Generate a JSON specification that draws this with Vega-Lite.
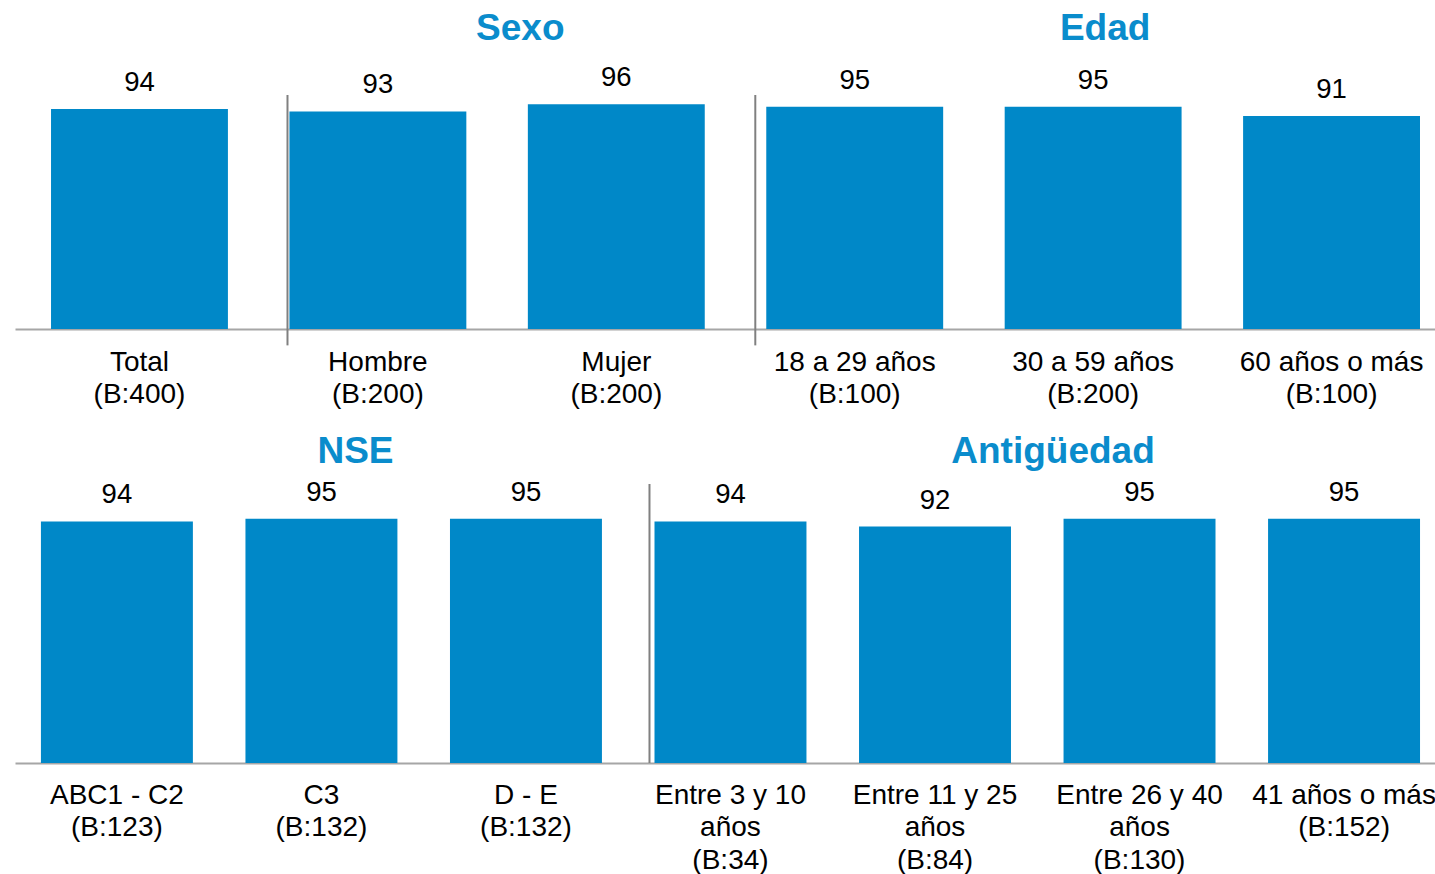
{
  "$schema": "https://vega.github.io/schema/vega-lite/v6.json",
  "padding": {"left": 15, "top": 10, "right": 0, "bottom": 0},
  "background": "white",
  "config": {
    "view": {"stroke": null},
    "font": "Liberation Sans",
    "axis": {"labelFont": "Liberation Sans"}
  },
  "datasets": {
    "top": [
      {"cat": "Total|(B:400)", "value": 94},
      {"cat": "Hombre|(B:200)", "value": 93},
      {"cat": "Mujer|(B:200)", "value": 96},
      {"cat": "18 a 29 años|(B:100)", "value": 95},
      {"cat": "30 a 59 años|(B:200)", "value": 95},
      {"cat": "60 años o más|(B:100)", "value": 91}
    ],
    "bottom": [
      {"cat": "ABC1 - C2|(B:123)", "value": 94},
      {"cat": "C3|(B:132)", "value": 95},
      {"cat": "D - E|(B:132)", "value": 95},
      {"cat": "Entre 3 y 10|años|(B:34)", "value": 94},
      {"cat": "Entre 11 y 25|años|(B:84)", "value": 92},
      {"cat": "Entre 26 y 40|años|(B:130)", "value": 95},
      {"cat": "41 años o más|(B:152)", "value": 95}
    ]
  },
  "spacing": 25,
  "vconcat": [
    {
      "width": 1420,
      "height": 234,
      "encoding": {
        "x": {
          "field": "cat", "type": "nominal", "sort": null,
          "scale": {
            "domain": ["Total|(B:400)", "Hombre|(B:200)", "Mujer|(B:200)", "18 a 29 años|(B:100)", "30 a 59 años|(B:200)", "60 años o más|(B:100)"],
            "paddingInner": 0.258, "paddingOuter": 0.107, "align": 0.706
          },
          "axis": {
            "title": null, "labelAngle": 0, "ticks": false, "tickSize": 0,
            "domainColor": "#a6a6a6", "domainWidth": 2,
            "labelFontSize": 28, "labelColor": "#000000", "labelPadding": 19,
            "labelLineHeight": 32, "labelLimit": 0, "labelOverlap": false, "labelBound": false,
            "labelBaseline": "top",
            "labelExpr": "split(datum.label, '|')"
          }
        }
      },
      "layer": [
        {
          "data": {"name": "top"},
          "mark": {"type": "bar", "color": "#0088c8"},
          "encoding": {
            "y": {"field": "value", "type": "quantitative", "scale": {"domain": [0, 100]}, "axis": null}
          }
        },
        {
          "data": {"name": "top"},
          "mark": {"type": "text", "fontSize": 27.5, "color": "#000000", "baseline": "alphabetic", "dy": -18},
          "encoding": {
            "y": {"field": "value", "type": "quantitative"},
            "text": {"field": "value"}
          }
        },
        {
          "data": {"values": [{"cat": "Hombre|(B:200)"}]},
          "mark": {"type": "rule", "color": "#808080", "strokeWidth": 2},
          "encoding": {
            "x": {"field": "cat", "type": "nominal", "bandPosition": -0.011},
            "y": {"datum": 100},
            "y2": {"datum": -7}
          }
        },
        {
          "data": {"values": [{"cat": "18 a 29 años|(B:100)"}]},
          "mark": {"type": "rule", "color": "#808080", "strokeWidth": 2},
          "encoding": {
            "x": {"field": "cat", "type": "nominal", "bandPosition": -0.062},
            "y": {"datum": 100},
            "y2": {"datum": -7}
          }
        },
        {
          "data": {"values": [{"group": "Sexo", "cat": "Mujer|(B:200)"}]},
          "mark": {"type": "text", "fontSize": 37, "fontWeight": "bold", "color": "#0a8ccc", "baseline": "middle", "dx": -96},
          "encoding": {
            "y": {"datum": 128},
            "text": {"field": "group"}
          }
        },
        {
          "data": {"values": [{"group": "Edad", "cat": "30 a 59 años|(B:200)"}]},
          "mark": {"type": "text", "fontSize": 37, "fontWeight": "bold", "color": "#0a8ccc", "baseline": "middle", "dx": 12},
          "encoding": {
            "y": {"datum": 128},
            "text": {"field": "group"}
          }
        }
      ]
    },
    {
      "width": 1420,
      "height": 257,
      "encoding": {
        "x": {
          "field": "cat", "type": "nominal", "sort": null,
          "scale": {
            "domain": ["ABC1 - C2|(B:123)", "C3|(B:132)", "D - E|(B:132)", "Entre 3 y 10|años|(B:34)", "Entre 11 y 25|años|(B:84)", "Entre 26 y 40|años|(B:130)", "41 años o más|(B:152)"],
            "paddingInner": 0.257, "paddingOuter": 0.1, "align": 0.634
          },
          "axis": {
            "title": null, "labelAngle": 0, "ticks": false, "tickSize": 0,
            "domainColor": "#a6a6a6", "domainWidth": 2,
            "labelFontSize": 28, "labelColor": "#000000", "labelPadding": 18,
            "labelLineHeight": 32.5, "labelLimit": 0, "labelOverlap": false, "labelBound": false,
            "labelBaseline": "top",
            "labelExpr": "split(datum.label, '|')"
          }
        }
      },
      "layer": [
        {
          "data": {"name": "bottom"},
          "mark": {"type": "bar", "color": "#0088c8"},
          "encoding": {
            "y": {"field": "value", "type": "quantitative", "scale": {"domain": [0, 100]}, "axis": null}
          }
        },
        {
          "data": {"name": "bottom"},
          "mark": {"type": "text", "fontSize": 27.5, "color": "#000000", "baseline": "alphabetic", "dy": -18},
          "encoding": {
            "y": {"field": "value", "type": "quantitative"},
            "text": {"field": "value"}
          }
        },
        {
          "data": {"values": [{"cat": "Entre 3 y 10|años|(B:34)"}]},
          "mark": {"type": "rule", "color": "#808080", "strokeWidth": 2},
          "encoding": {
            "x": {"field": "cat", "type": "nominal", "bandPosition": -0.033},
            "y": {"datum": 108.6},
            "y2": {"datum": 0}
          }
        },
        {
          "data": {"values": [{"group": "NSE", "cat": "C3|(B:132)"}]},
          "mark": {"type": "text", "fontSize": 37, "fontWeight": "bold", "color": "#0a8ccc", "baseline": "middle", "dx": 34},
          "encoding": {
            "y": {"datum": 121},
            "text": {"field": "group"}
          }
        },
        {
          "data": {"values": [{"group": "Antigüedad", "cat": "Entre 11 y 25|años|(B:84)"}]},
          "mark": {"type": "text", "fontSize": 37, "fontWeight": "bold", "color": "#0a8ccc", "baseline": "middle", "dx": 118},
          "encoding": {
            "y": {"datum": 121},
            "text": {"field": "group"}
          }
        }
      ]
    }
  ]
}
